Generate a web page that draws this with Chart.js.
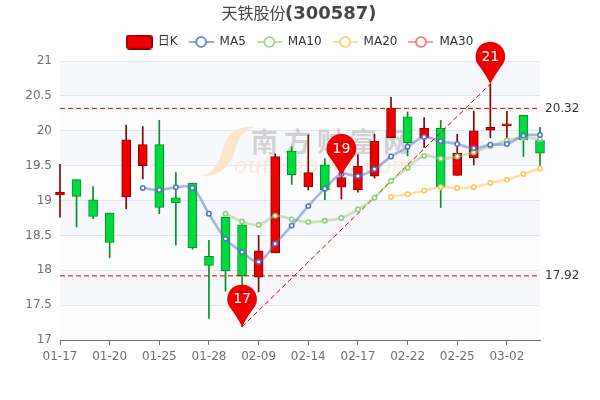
<!DOCTYPE html>
<html>
<head>
<meta charset="utf-8">
<style>
  html, body { margin: 0; padding: 0; background: #fff; }
  canvas { display: block; }
</style>
<script src="https://cdn.jsdelivr.net/npm/chart.js@4/dist/chart.umd.min.js"></script>
</head>
<body>
<canvas id="productChart" width="600" height="400"></canvas>
<script>
const dates = ['01-17','01-18','01-19','01-20','01-21','01-24','01-25','01-26','01-27','01-28',
  '02-07','02-08','02-09','02-10','02-11','02-14','02-15','02-16','02-17','02-18',
  '02-21','02-22','02-23','02-24','02-25','02-28','03-01','03-02','03-03','03-04'];
const opens = [19.08,19.30,19.01,18.82,19.05,19.50,19.80,19.04,19.25,18.20,
  18.76,18.65,17.90,18.25,19.71,19.20,19.51,19.19,19.15,19.35,
  19.90,20.20,19.90,20.04,19.36,19.61,20.01,20.07,20.22,19.86];
const closes = [19.12,19.06,18.77,18.40,19.87,19.80,18.90,18.97,18.32,18.07,
  17.99,17.92,18.28,19.63,19.37,19.40,19.15,19.33,19.49,19.85,
  20.32,19.83,20.04,19.20,19.68,20.00,20.05,20.10,19.87,19.68];
const lows = [18.76,18.62,18.74,18.18,18.88,19.31,18.81,18.36,18.30,17.31,
  17.70,17.19,17.69,18.25,19.23,19.15,19.01,19.02,19.12,19.32,
  19.90,19.64,19.76,18.90,19.36,19.51,19.90,19.86,19.63,19.48];
const highs = [19.52,19.30,19.20,18.82,20.08,20.06,20.15,19.40,19.25,18.43,
  18.76,18.65,18.50,19.67,19.77,19.94,19.60,19.36,19.66,19.95,
  20.48,20.27,20.19,20.15,19.95,20.28,20.67,20.28,20.22,20.05];
const ma5 = [null,null,null,null,null,19.18,19.15,19.19,19.18,18.81,
  18.45,18.26,18.12,18.38,18.64,18.92,19.17,19.38,19.35,19.45,
  19.63,19.77,19.91,19.85,19.81,19.75,19.80,19.81,19.93,19.94];
const ma10 = [null,null,null,null,null,null,null,null,null,null,
  18.81,18.70,18.65,18.78,18.73,18.69,18.71,18.75,18.87,19.04,
  19.28,19.47,19.64,19.60,19.63,19.69,19.78,19.86,19.90,19.88];
const ma20 = [null,null,null,null,null,null,null,null,null,null,
  null,null,null,null,null,null,null,null,null,null,
  19.05,19.09,19.14,19.19,19.18,19.19,19.25,19.30,19.38,19.46];
const ma30 = [];
const refLevels = [20.32, 17.92];
const yTicks = [17, 17.5, 18, 18.5, 19, 19.5, 20, 20.5, 21];
const markIndex = [11, 17, 26];
const markValue = [17.19, 19.35, 20.67];
const markText = ['17', '19', '21'];
const legendNames = ['日K', 'MA5', 'MA10', 'MA20', 'MA30'];

const UP = '#ec0000', DOWN = '#00da3c', UP_EDGE = '#8a0000', DOWN_EDGE = '#008f28';
const MA_COLORS = ['#5470c6', '#91cc75', '#fac858', '#ee6666'];
const AXIS = '#6e7079';
const FONT = '"DejaVu Sans", "Noto Sans CJK SC", sans-serif';

const isUp = i => closes[i] >= opens[i];

function alpha(hex, a) {
  const n = parseInt(hex.slice(1), 16);
  return `rgba(${n >> 16}, ${(n >> 8) & 255}, ${n & 255}, ${a})`;
}

function maDataset(label, data, color) {
  return {
    type: 'line',
    label,
    data,
    order: 0,
    clip: false,
    borderColor: alpha(color, 0.5),
    borderWidth: 2.6,
    tension: 0.35,
    pointRadius: 2.2,
    pointBorderWidth: 1.5,
    pointBorderColor: color,
    pointBackgroundColor: '#fff'
  };
}

function refDataset(data) {
  return {
    type: 'line',
    data,
    order: 0,
    spanGaps: true,
    borderColor: '#d40000',
    borderWidth: 1,
    borderDash: [5, 3],
    pointRadius: 0,
    tension: 0
  };
}

function lineIcon(color) {
  const c = document.createElement('canvas');
  c.width = 25; c.height = 14;
  const g = c.getContext('2d');
  g.strokeStyle = alpha(color, 0.6);
  g.lineWidth = 2;
  g.beginPath(); g.moveTo(0, 7); g.lineTo(25, 7); g.stroke();
  g.beginPath(); g.arc(12.5, 7, 5, 0, Math.PI * 2);
  g.fillStyle = '#fff'; g.fill();
  g.strokeStyle = color; g.lineWidth = 1.6; g.stroke();
  return c;
}

function candleIcon() {
  const c = document.createElement('canvas');
  c.width = 27; c.height = 15;
  const g = c.getContext('2d');
  g.beginPath(); g.roundRect(0.75, 0.75, 25.5, 13.5, 3);
  g.fillStyle = UP; g.fill();
  g.strokeStyle = UP_EDGE; g.lineWidth = 1.5; g.stroke();
  return c;
}

const backdrop = {
  id: 'backdrop',
  afterLayout(chart) {
    chart.legend.top -= 3;
  },
  beforeDraw(chart) {
    const { ctx, chartArea: a, scales: { y } } = chart;
    ctx.save();
    ctx.fillStyle = '#fff';
    ctx.fillRect(0, 0, chart.width, chart.height);
    yTicks.slice(0, -1).forEach((v, i) => {
      const top = y.getPixelForValue(yTicks[i + 1]), bottom = y.getPixelForValue(v);
      ctx.fillStyle = i % 2 === 1 ? '#f6f8fc' : '#fdfdfe';
      ctx.fillRect(a.left, top, a.right - a.left, bottom - top);
    });
    ctx.restore();
  },
  beforeDatasetsDraw(chart) {
    // watermark
    const { ctx } = chart;
    ctx.save();
    ctx.fillStyle = '#fbe6cc';
    ctx.beginPath();
    ctx.moveTo(201, 176);
    ctx.bezierCurveTo(222, 170, 221, 150, 226, 140);
    ctx.bezierCurveTo(232, 128, 245, 126, 256, 127);
    ctx.bezierCurveTo(240, 130, 238, 142, 234, 153);
    ctx.bezierCurveTo(229, 168, 218, 177, 201, 176);
    ctx.fill();
    ctx.fillStyle = '#d2d2d2';
    ctx.font = 'bold 27px "Noto Sans CJK SC", sans-serif';
    ctx.textBaseline = 'middle';
    [...'南方财富网'].forEach((ch, i) => ctx.fillText(ch, 251 + i * 33, 142));
    ctx.fillStyle = '#fde9d3';
    ctx.font = 'italic 26px "Liberation Serif", serif';
    ctx.textBaseline = 'alphabetic';
    ctx.letterSpacing = '1.2px';
    ctx.fillText('outhmoney.com', 234, 173);
    ctx.restore();
  },
  afterDatasetsDraw(chart) {
    // pins on the marked points
    const { ctx, scales: { x, y } } = chart;
    ctx.save();
    markIndex.forEach((idx, i) => {
      const px = x.getPixelForValue(idx), py = y.getPixelForValue(markValue[i]);
      const r = 14.8, cy = py - 27.5;
      ctx.fillStyle = '#ee0000';
      ctx.beginPath();
      ctx.arc(px, cy, r, Math.PI * 0.85, Math.PI * 0.15);
      ctx.quadraticCurveTo(px + 4, cy + 19, px, py);
      ctx.quadraticCurveTo(px - 4, cy + 19, px + r * Math.cos(Math.PI * 0.85), cy + r * Math.sin(Math.PI * 0.85));
      ctx.fill();
      ctx.fillStyle = '#fff';
      ctx.font = '14px ' + FONT;
      ctx.textAlign = 'center';
      ctx.textBaseline = 'middle';
      ctx.fillText(markText[i], px, cy + 0.5);
    });
    ctx.restore();
  },
  afterDraw(chart) {
    // title has two weights, the library title only takes one font
    const { ctx } = chart;
    ctx.save();
    ctx.textBaseline = 'alphabetic';
    ctx.fillStyle = '#464646';
    ctx.font = '16px "Noto Sans CJK SC", sans-serif';
    ctx.fillText('天铁股份', 221.5, 19);
    ctx.font = 'bold 18px "DejaVu Sans", sans-serif';
    ctx.fillText('(300587)', 285, 19);
    ctx.restore();
  }
};

new Chart(document.getElementById('productChart'), {
  data: {
    labels: dates,
    datasets: [
      maDataset('MA5', ma5, MA_COLORS[0]),
      maDataset('MA10', ma10, MA_COLORS[1]),
      maDataset('MA20', ma20, MA_COLORS[2]),
      maDataset('MA30', ma30, MA_COLORS[3]),
      refDataset(dates.map(() => refLevels[0])),
      refDataset(dates.map(() => refLevels[1])),
      refDataset(dates.map((d, i) => {
        const at = [markIndex[0], markIndex[2]].indexOf(i);
        return at < 0 ? null : markValue[at * 2];
      })),
      {
        type: 'bar',
        label: '日K',
        data: dates.map((d, i) => [opens[i], closes[i]]),
        order: 1,
        clip: false,
        grouped: false,
        barThickness: 9,
        borderWidth: 1,
        borderSkipped: false,
        backgroundColor: dates.map((d, i) => isUp(i) ? UP : DOWN),
        borderColor: dates.map((d, i) => isUp(i) ? UP_EDGE : DOWN_EDGE)
      },
      {
        type: 'bar',
        label: 'wick',
        data: dates.map((d, i) => [lows[i], highs[i]]),
        order: 2,
        clip: false,
        grouped: false,
        barThickness: 1,
        borderWidth: 0,
        backgroundColor: dates.map((d, i) => isUp(i) ? UP_EDGE : DOWN_EDGE)
      }
    ]
  },
  options: {
    responsive: false,
    animation: false,
    layout: { padding: { top: 28 } },
    plugins: {
      title: { display: false },
      tooltip: { enabled: false },
      legend: {
        display: true,
        position: 'top',
        onClick: null,
        labels: {
          usePointStyle: true,
          pointStyleWidth: 25,
          padding: 11,
          color: '#333',
          font: { family: FONT, size: 12 },
          generateLabels: () => legendNames.map((text, i) => ({
            text,
            pointStyle: i === 0 ? candleIcon() : lineIcon(MA_COLORS[i - 1]),
            fontColor: '#333',
            hidden: false,
            lineWidth: 0
          }))
        }
      }
    },
    scales: {
      x: {
        type: 'category',
        offset: false,
        afterFit: scale => { scale.height = 60; },
        afterBuildTicks: scale => { scale.ticks = scale.ticks.filter(t => t.value % 3 === 0); },
        border: { display: true, color: AXIS, width: 1 },
        grid: { offset: false, drawOnChartArea: false, drawTicks: true, tickLength: 5, tickColor: AXIS },
        ticks: { autoSkip: false, maxRotation: 0, color: AXIS, padding: 5, font: { family: FONT, size: 12 } }
      },
      y: {
        type: 'linear',
        min: 17,
        max: 21,
        afterFit: scale => { scale.width = 60; },
        border: { display: false },
        grid: { color: '#e0e6f1', drawTicks: false },
        ticks: {
          stepSize: 0.5,
          color: AXIS,
          padding: 8,
          font: { family: FONT, size: 12 },
          callback: v => String(v)
        }
      },
      y2: {
        type: 'linear',
        position: 'right',
        min: 17,
        max: 21,
        afterBuildTicks: scale => { scale.ticks = refLevels.map(value => ({ value })); },
        afterFit: scale => { scale.width = 60; },
        border: { display: false },
        grid: { display: false, drawTicks: false },
        ticks: {
          autoSkip: false,
          color: '#333',
          padding: 5,
          font: { family: FONT, size: 12 },
          callback: v => Number(v).toFixed(2)
        }
      }
    }
  },
  plugins: [backdrop]
});
</script>
</body>
</html>
